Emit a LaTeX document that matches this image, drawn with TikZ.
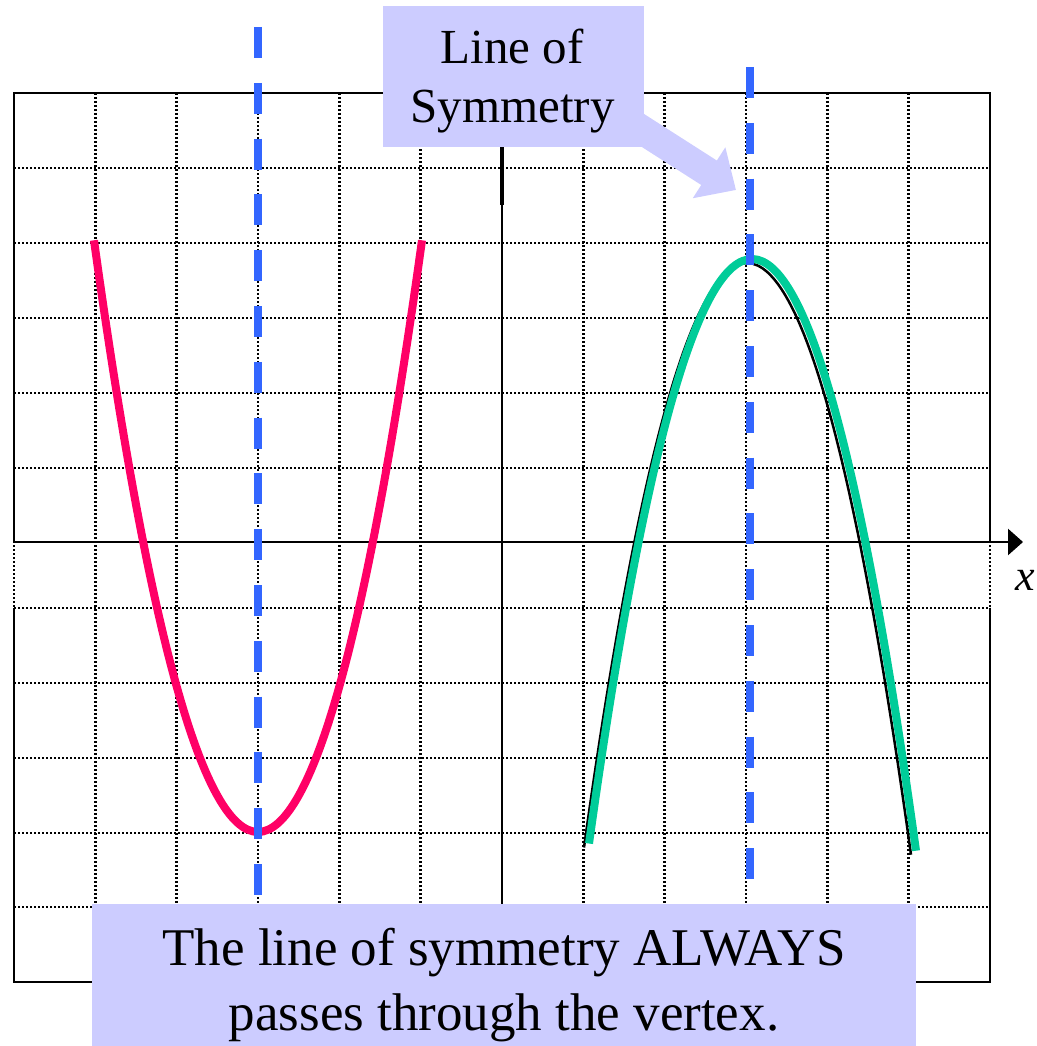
\documentclass[tikz,border=0pt]{standalone}
\usepackage{fontspec}
\setmainfont{Liberation Serif}
\usetikzlibrary{arrows.meta}
\definecolor{pinkred}{HTML}{FF0066}
\definecolor{tealgreen}{HTML}{00CC99}
\definecolor{symblue}{HTML}{3366FF}
\definecolor{lavender}{HTML}{CCCCFF}
\begin{document}
\begin{tikzpicture}[x=1pt,y=-1pt,
  gridline/.style={line width=2.6pt, dash pattern=on 2pt off 2pt, black},
  frame/.style={line width=2.6pt, black},
  symline/.style={symblue, line width=8pt, dash pattern=on 31pt off 24.8pt},
  lbl/.style={fill=lavender, inner sep=0pt, draw=none},
  toptext/.style={inner sep=0pt, font=\fontsize{49}{59}\selectfont, anchor=base},
  bottext/.style={inner sep=0pt, font=\fontsize{53}{64}\selectfont, anchor=base},
]
\useasboundingbox (0,0) rectangle (1036,1046);

% dotted grid
\foreach \i in {0,...,12} \draw[gridline] ({14+81.333*\i},93) -- ({14+81.333*\i},982);
\foreach \yy in {168,243,318,393,468,608,683,758,833,907} \draw[gridline] (14,\yy) -- (990,\yy);

% frame (dotted gap between axis and first line below it)
\draw[frame] (14,542) -- (14,93) -- (990,93) -- (990,542);
\draw[frame] (14,608) -- (14,982) -- (990,982) -- (990,608);

% axes
\draw[frame, -{Triangle[length=15pt,width=26pt]}] (14,542) -- (1023,542);
\draw[line width=2.6pt] (502,147) -- (502,982);
\draw[line width=4pt] (502,147) -- (502,205);
\node[font=\fontsize{44}{50}\selectfont\itshape, anchor=base, inner sep=0pt] (xlab) at (1025,590) {x};

% parabolas (exact parabolic arcs as Bezier curves)
\draw[pinkred, line width=8pt] (94,240.3) .. controls (203.33,1029.2) and (312.67,1029.2) .. (422,240.3);
\draw[black, line width=2.5pt] (584,847.5) .. controls (693,65.8) and (802,68.2) .. (911,854.7);
\draw[tealgreen, line width=8pt] (589,843.5) .. controls (698,61.8) and (807,64.2) .. (916,850.7);

% lines of symmetry
\draw[symline] (258,27) -- (258,904);
\draw[symline] (750,67) -- (750,904);

% callout box with arrow
\node[lbl, minimum width=261pt, minimum height=141pt] (topbox) at (513.5,76.5) {};
\coordinate (tail) at (600,103);
\coordinate (tip) at (736,190);
\draw[lavender, line width=29pt, -{Triangle[length=32pt,width=58.5pt]}] (tail) -- (tip);
\node[toptext] (t1) at (512,64) {Line of};
\node[toptext] (t2) at (512.5,122.7) {Symmetry};

% bottom box
\node[lbl, minimum width=824pt, minimum height=142pt] (botbox) at (504,975) {};
\node[bottext] (b1) at (504,965) {The line of symmetry ALWAYS};
\node[bottext] (b2) at (504,1030) {passes through the vertex.};
\end{tikzpicture}
\end{document}
